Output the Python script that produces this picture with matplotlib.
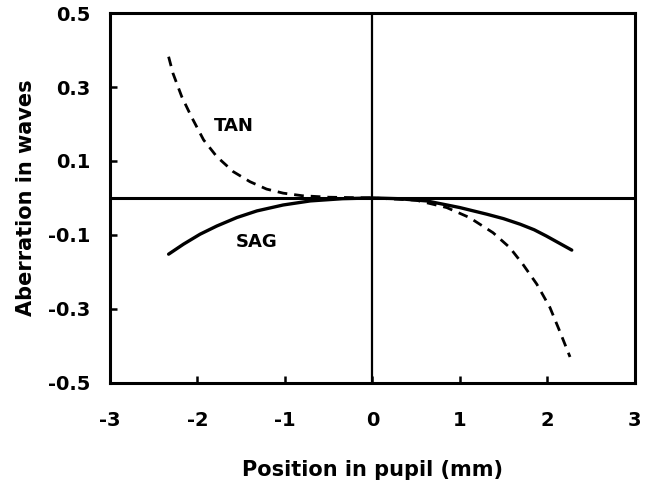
import numpy as np
import matplotlib
matplotlib.use("Agg")
from matplotlib import pyplot as plt

plt.rcParams['axes.unicode_minus'] = False
plt.rcParams['font.family'] = 'DejaVu Sans'
plt.rcParams['font.weight'] = 'bold'

# valores (posicao na pupila em mm, aberracao em ondas)
tan_x = [-2.33, -2.28, -2.18, -2.07, -1.93, -1.78, -1.59, -1.40, -1.21, -1.02,
         -0.80, -0.50, 0.0, 0.50, 0.85, 1.11, 1.38, 1.57, 1.72, 1.88, 2.03, 2.14, 2.26]
tan_y = [0.382, 0.337, 0.274, 0.220, 0.157, 0.112, 0.071, 0.044, 0.024, 0.013,
         0.006, 0.002, 0.0, -0.006, -0.026, -0.053, -0.094, -0.134, -0.179, -0.233, -0.296, -0.359, -0.430]

sag_x = [-2.33, -2.16, -1.97, -1.78, -1.55, -1.32, -1.02, -0.71, -0.34, 0.0,
         0.30, 0.62, 1.00, 1.31, 1.50, 1.69, 1.85, 1.99, 2.28]
sag_y = [-0.152, -0.125, -0.098, -0.076, -0.053, -0.035, -0.019, -0.008, -0.002, 0.0,
         -0.002, -0.008, -0.026, -0.044, -0.056, -0.071, -0.086, -0.103, -0.141]

x_ticks = [-3, -2, -1, 0, 1, 2, 3]
y_ticks = [-0.5, -0.3, -0.1, 0.1, 0.3, 0.5]
y_tick_labels = ['-0.5', '-0.3', '-0.1', '0.1', '0.3', '0.5']

fig = plt.figure(figsize=(6.51, 4.84), dpi=100)
ax = fig.add_axes([0.169, 0.209, 0.806, 0.764])

ax.axhline(0, color='black', lw=2.2)
ax.axvline(0, color='black', lw=1.6)

ax.plot(sag_x, sag_y, color='black', lw=2.4, solid_capstyle='round')
ax.plot(tan_x, tan_y, color='black', lw=2.0, dashes=(3.5, 2.5))

ax.text(-1.59, 0.195, 'TAN', fontsize=13, fontweight='bold', ha='center', va='center')
ax.text(-1.32, -0.118, 'SAG', fontsize=13, fontweight='bold', ha='center', va='center')

ax.set_xlim(-3, 3)
ax.set_ylim(-0.5, 0.5)
ax.set_xticks(x_ticks)
ax.set_xticklabels([str(v) for v in x_ticks])
ax.set_yticks(y_ticks)
ax.set_yticklabels(y_tick_labels)
ax.tick_params(direction='in', length=5, width=1.8, labelsize=14)
ax.tick_params(axis='x', pad=20)
ax.tick_params(axis='y', pad=14)
for s in ax.spines.values():
    s.set_linewidth(2.2)

ax.set_xlabel('Position in pupil (mm)', fontsize=15, fontweight='bold', labelpad=22)
ax.set_ylabel('Aberration in waves', fontsize=15, fontweight='bold', labelpad=9)

plt.savefig('out.png', dpi=100)
plt.close()
